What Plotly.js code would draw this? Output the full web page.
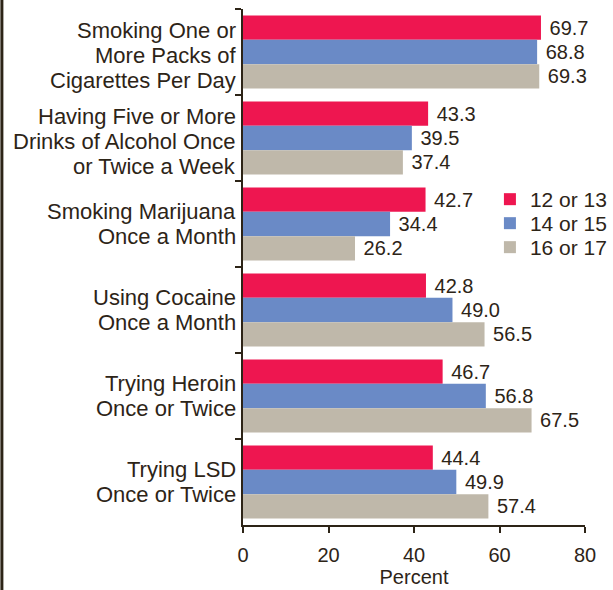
<!DOCTYPE html>
<html>
<head>
<meta charset="utf-8">
<script src="https://cdn.plot.ly/plotly-3.0.1.min.js"></script>
<style>html,body{margin:0;padding:0;background:#fff;}</style>
</head>
<body>
<div id="chart" style="width:613px;height:590px;"></div>
<script>
const categories = [
  "Smoking One or<br>More Packs of<br>Cigarettes Per Day",
  "Having Five or More<br>Drinks of Alcohol Once<br>or Twice a Week",
  "Smoking Marijuana<br>Once a Month",
  "Using Cocaine<br>Once a Month",
  "Trying Heroin<br>Once or Twice",
  "Trying LSD<br>Once or Twice"
];
const seriesNames = ["12 or 13", "14 or 15", "16 or 17"];
const age12to13 = [69.7, 43.3, 42.7, 42.8, 46.7, 44.4];
const age14to15 = [68.8, 39.5, 34.4, 49.0, 56.8, 49.9];
const age16to17 = [69.3, 37.4, 26.2, 56.5, 67.5, 57.4];
const xTicks = [0, 20, 40, 60, 80];

const colors = ["#EE1650", "#6A8AC6", "#BFB8AA"];
const ink = "#2d2417";
const font = "Liberation Sans, Arial, Helvetica, sans-serif";
const seriesValues = [age12to13, age14to15, age16to17];
const legendIds = ["legend", "legend2", "legend3"];
const legendY = [0.6705, 0.624, 0.5775];

const traces = seriesValues.map((vals, i) => ({
  type: "bar",
  orientation: "h",
  name: seriesNames[i],
  legend: legendIds[i],
  y: categories,
  x: vals,
  marker: {color: colors[i], line: {width: 0}},
  text: vals.map(v => v.toFixed(1)),
  texttemplate: "\u00a0%{text}",
  textposition: "outside",
  textfont: {family: font, size: 20, color: ink},
  cliponaxis: false
}));

// category labels: one annotation per text line for tighter line spacing
const lineGap = 25;
const annotations = [];
categories.forEach(cat => {
  const lines = cat.split("<br>");
  lines.forEach((ln, i) => {
    annotations.push({
      xref: "paper", yref: "y", x: 0, y: cat,
      xanchor: "right", yanchor: "middle",
      xshift: -5, yshift: -((i - (lines.length - 1) / 2) * lineGap) - (lines.length === 3 ? 3 : 0),
      text: ln, showarrow: false,
      font: {family: font, size: 22, color: ink}
    });
  });
});

const layout = {
  width: 613, height: 590,
  paper_bgcolor: "#ffffff", plot_bgcolor: "#ffffff",
  margin: {l: 243, r: 28, t: 9, b: 65, autoexpand: false},
  barmode: "group", bargap: 0.15, bargroupgap: 0,
  font: {family: font, color: ink, size: 20},
  showlegend: true,
  xaxis: {range: [0, 80], tickvals: xTicks, ticktext: xTicks.map(String),
          showgrid: false, zeroline: false, showline: true, linecolor: ink, linewidth: 2,
          ticks: "outside", ticklen: 6, tickwidth: 2, tickcolor: ink,
          tickfont: {family: font, size: 20, color: ink}, ticklabelstandoff: 5,
          title: {text: "Percent", font: {family: font, size: 20, color: ink}, standoff: 4},
          automargin: false, fixedrange: true},
  yaxis: {type: "category", autorange: "reversed", showgrid: false, zeroline: false,
          showline: true, linecolor: ink, linewidth: 2, showticklabels: false,
          ticks: "outside", tickson: "boundaries", ticklen: 6, tickwidth: 2, tickcolor: ink,
          automargin: false, fixedrange: true},
  annotations: annotations,
  shapes: [{type: "line", xref: "paper", yref: "paper",
            x0: -0.705, x1: -0.705, y0: -0.2, y1: 1.05,
            line: {color: ink, width: 3}}]
};
legendIds.forEach((id, i) => {
  layout[id] = {x: 0.722, y: legendY[i], xanchor: "left", yanchor: "top",
                font: {family: font, size: 21, color: ink}, bgcolor: "rgba(0,0,0,0)",
                itemwidth: 30};
});

Plotly.newPlot("chart", traces, layout, {displayModeBar: false, staticPlot: true});
</script>
</body>
</html>
